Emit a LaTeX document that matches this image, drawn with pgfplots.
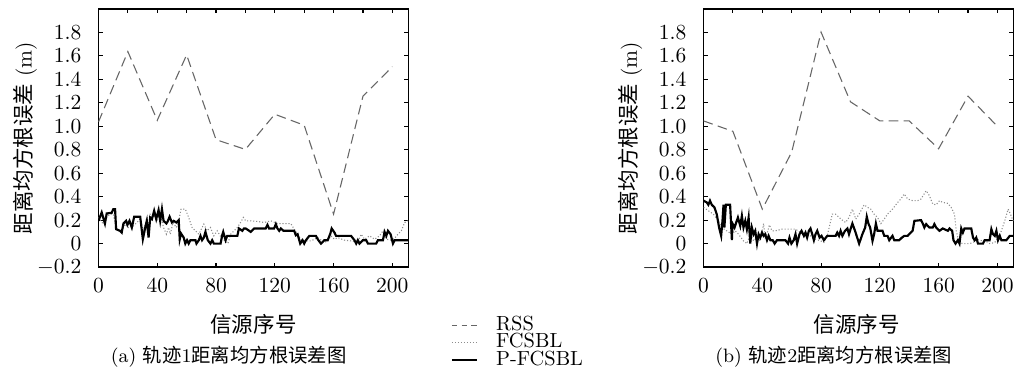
\documentclass[border=0pt]{standalone}
\usepackage{fontspec}
\usepackage{pgfplots}
\pgfplotsset{compat=1.18}
\newfontfamily\cjk{Noto Sans CJK SC}
\pgfplotsset{
  every axis title shift=0pt,
  myax/.style={
    scale only axis, width=144.2pt, height=120pt,
    xmin=0, xmax=211, ymin=-0.2, ymax=2.0,
    xtick={0,40,80,120,160,200},
    extra x ticks={20,60,100,140,180},
    extra x tick labels={},
    extra x tick style={xtick pos=right},
    ytick={-0.2,0,0.2,0.4,0.6,0.8,1.0,1.2,1.4,1.6,1.8},
    yticklabels={$-0.2$,$0$,$0.2$,$0.4$,$0.6$,$0.8$,$1.0$,$1.2$,$1.4$,$1.6$,$1.8$},
    tick align=inside, major tick length=1.9pt,
    tick style={black, line width=0.5pt},
    axis line style={line width=0.6pt},
    yticklabel style={xshift=-4.4pt},
    xticklabel style={yshift=-1.8pt},
    ylabel={\cjk 距离均方根误差\rmfamily\ (m)},
    xlabel={\cjk 信源序号},
    ylabel style={at={(axis description cs:-0.236,0.5)}, anchor=center},
    title style={anchor=center, yshift=0pt, font=\fontsize{9}{10}\selectfont},
    clip=true,
  },
  rss/.style={color=black!60, line width=0.5pt, dash pattern=on 4.5pt off 2.5pt},
  fcs/.style={color=black!45, line width=0.5pt, dash pattern=on 0.5pt off 0.9pt},
  pfcs/.style={color=black, line width=1pt},
}
\begin{document}
\begin{tikzpicture}[x=1pt,y=1pt]
\useasboundingbox (0,0) rectangle (471.6,174.9);
\begin{axis}[myax, at={(45.8pt,50.7pt)}, anchor=south west,
  xlabel style={at={(axis description cs:0.5,-0.221)}, anchor=center},
  title={(a) {\cjk 轨迹}1{\cjk 距离均方根误差图}},
  title style={at={(axis description cs:0.42,-0.346)}},
  legend style={at={(axis description cs:1.135,-0.19)}, anchor=north west,
    draw=none, fill=none, inner sep=0pt, row sep=0pt, column sep=8.5pt,
    font=\fontsize{9.5}{10}\selectfont,
    nodes={inner sep=0pt, text height=6.4pt, text depth=1.7pt}},
  legend cell align=left,
  legend image code/.code={\draw[#1] (0pt,0pt) -- (11.6pt,0pt);},
]
\addlegendimage{color=black!60, line width=0.5pt, dash pattern=on 2.6pt off 1.9pt}
\addlegendentry{RSS}
\addlegendimage{fcs}
\addlegendentry{FCSBL}
\addlegendimage{pfcs}
\addlegendentry{P-FCSBL}
\addplot[rss, forget plot] coordinates {(0,1.037)(20,1.637)(40,1.051)(60,1.609)(80,0.886)(100,0.803)(120,1.103)(140,1.009)(160,0.251)(180,1.257)(200,1.509)};
\addplot[fcs, forget plot] coordinates {(0,0.223)(3.3,0.166)(5.6,0.223)(7.9,0.251)(10.1,0.251)(12.4,0.109)(15.8,0.109)(18.1,0.166)(20.4,0.137)(22.7,0.137)(25.0,0.166)(28.4,0.209)(30.7,0.109)(32.9,0.223)(34.1,0.08)(35.2,0.251)(37.5,0.251)(39.8,0.194)(42.0,0.251)(44.3,0.137)(46.2,0.08)(47.7,0.137)(48.9,0.08)(50.7,0.18)(53.0,0.137)(54.6,0.194)(56.2,0.294)(59.1,0.294)(61.4,0.223)(63.7,0.137)(66.0,0.109)(68.3,0.08)(69.4,0.109)(71.7,0.166)(73.9,0.109)(76.2,0.137)(78.5,0.066)(80.8,0.109)(84.2,0.037)(86.5,0.023)(88.1,0.0)(89.9,0.08)(92.2,0.109)(94.5,0.137)(96.7,0.18)(98.6,0.223)(100.2,0.194)(103.6,0.194)(108.1,0.189)(112.7,0.18)(117.3,0.194)(121.8,0.171)(126.4,0.171)(130.9,0.171)(133.2,0.123)(135.5,0.08)(137.8,0.037)(140.0,0.023)(144.6,0.023)(149.2,0.051)(153.7,0.009)(156.0,0.023)(158.3,0.066)(160.6,0.037)(162.8,0.051)(167.4,0.029)(171.9,0.023)(176.5,0.009)(178.8,0.08)(181.1,0.037)(184.5,0.066)(187.9,0.037)(191.3,0.066)(193.6,0.109)(195.9,0.037)(199.3,0.029)(201.6,0.046)(203.8,0.08)(206.1,0.109)(208.4,0.18)(210.7,0.194)};
\addplot[pfcs, forget plot] coordinates {(0,0.194)(2.2,0.266)(4.4,0.171)(5.6,0.257)(9.0,0.263)(10.1,0.294)(11.3,0.294)(12.0,0.123)(14.7,0.109)(15.8,0.094)(17.0,0.171)(18.8,0.194)(19.7,0.16)(21.1,0.194)(22.7,0.137)(24.3,0.229)(28.4,0.229)(30.2,0.037)(31.8,0.137)(32.9,0.194)(34.1,0.051)(35.2,0.223)(36.4,0.209)(37.9,0.28)(39.3,0.209)(40.9,0.286)(42.0,0.194)(43.2,0.294)(44.3,0.194)(46.2,0.171)(47.1,0.189)(48.4,0.229)(50.0,0.18)(51.2,0.194)(53.0,0.18)(54.6,0.2)(55.3,0.037)(56.2,0.086)(58.0,0.051)(59.1,0)(60.3,0.029)(61.4,0)(62.6,0.029)(66.0,0.029)(66.7,0)(68.3,0.029)(69.4,0.066)(70.5,0.029)(71.7,0.051)(72.8,0.1)(74.4,0.029)(76.2,0)(77.4,0.029)(78.5,0)(83.1,0)(84.2,0.071)(84.9,0.1)(86.5,0.029)(87.6,0.066)(94.5,0.066)(95.6,0.129)(97.9,0.109)(99.0,0.129)(100.2,0.129)(103.6,0.1)(105.9,0.129)(113.8,0.129)(115.0,0.16)(116.1,0.129)(119.5,0.129)(120.7,0.166)(121.8,0.129)(123.0,0.109)(124.1,0.129)(125.9,0.109)(133.2,0.109)(134.3,0.071)(135.5,0.08)(137.3,0)(138.9,0.029)(140.0,0)(141.2,0.029)(143.5,0.066)(148.0,0.066)(149.2,0.037)(151.4,0)(153.7,0.029)(156.0,0.029)(157.8,0.086)(158.7,0.129)(160.6,0.094)(161.7,0.066)(171.9,0.066)(174.2,0.029)(175.4,0)(176.5,0.029)(177.6,0)(179.9,0.029)(182.2,0.029)(183.4,0)(189.0,0)(190.2,0.029)(193.6,0.029)(194.7,0.1)(195.9,0.066)(197.0,0.109)(198.8,0.08)(200.4,0)(201.6,0.029)(210.7,0.029)};
\end{axis}
\begin{axis}[myax, at={(327.2pt,50.7pt)}, anchor=south west,
  xlabel style={at={(axis description cs:0.494,-0.221)}, anchor=center},
  title={(b) {\cjk 轨迹}2{\cjk 距离均方根误差图}},
  title style={at={(axis description cs:0.42,-0.346)}},
]
\addplot[rss] coordinates {(0,1.046)(20,0.957)(40,0.294)(60,0.78)(80,1.803)(100,1.209)(120,1.046)(140,1.046)(160,0.809)(180,1.257)(200,1.0)};
\addplot[fcs] coordinates {(0,0.309)(3.3,0.28)(6.7,0.251)(10.1,0.194)(12.4,0.137)(15.8,0.109)(19.3,0.08)(21.5,0.109)(23.8,0.08)(27.2,0.023)(29.5,0)(31.8,0.08)(34.1,0.023)(36.4,0.051)(38.6,0.023)(40.9,0.171)(42.0,0.051)(43.2,0.08)(44.8,0.16)(46.6,0.109)(48.9,0.109)(53.4,0.123)(58.0,0.123)(62.6,0.123)(66.0,0.094)(69.4,0.08)(72.8,0.066)(76.2,0.037)(79.7,0.023)(81.9,0.009)(84.2,0.066)(87.6,0.251)(89.9,0.251)(92.2,0.223)(94.5,0.2)(96.7,0.18)(99.0,0.223)(101.3,0.294)(103.6,0.209)(105.9,0.251)(109.3,0.331)(111.6,0.309)(113.8,0.294)(116.1,0.251)(118.4,0.223)(120.7,0.171)(123.0,0.209)(125.2,0.251)(128.6,0.294)(132.1,0.351)(134.3,0.38)(136.6,0.423)(138.9,0.38)(142.3,0.366)(145.7,0.366)(148.0,0.38)(151.5,0.451)(153.7,0.409)(156.0,0.337)(158.3,0.331)(160.6,0.366)(162.8,0.351)(166.3,0.343)(168.5,0.309)(170.8,0.251)(172.0,0.109)(173.8,0.009)(176.5,0)(181.1,0)(183.4,0.009)(185.6,0.037)(187.9,0.029)(190.2,0.023)(192.5,0.017)(194.7,0)(198.2,0.009)(200.4,0.051)(202.7,0.109)(205.0,0.194)(207.3,0.294)(208.9,0.251)(210.7,0.194)};
\addplot[pfcs] coordinates {(0,0.366)(2.2,0.351)(3.3,0.331)(4.4,0.366)(5.6,0.331)(7.4,0.309)(9.0,0.251)(10.6,0.137)(12.0,0.066)(12.9,0.194)(13.6,0.331)(14.2,0.137)(15.2,0.331)(18.1,0.331)(19.3,0.029)(19.7,0.171)(21.1,0.137)(22.0,0.171)(23.4,0.223)(25.0,0.151)(26.1,0.237)(27.2,0.137)(28.4,0.194)(29.5,0.123)(30.7,0.223)(31.8,0)(32.9,0.137)(34.1,0.08)(35.2,0.109)(36.4,0)(37.5,0.08)(38.6,0.051)(39.8,0.094)(40.9,0.066)(42.0,0.08)(43.2,0.029)(44.3,0.066)(45.5,0.029)(47.1,0.029)(48.4,0)(50.0,0.029)(55.7,0.029)(57.5,0)(58.5,0.051)(59.8,0)(61.4,0.029)(62.6,0.08)(63.7,0)(65.3,0.08)(66.7,0.109)(68.3,0.066)(69.4,0.094)(70.5,0.051)(71.7,0.109)(72.8,0.129)(74.0,0.08)(75.1,0.029)(76.2,0.08)(77.4,0.109)(79.0,0.051)(80.3,0.066)(81.9,0.029)(84.2,0.066)(89.9,0.066)(91.0,0.094)(92.2,0.066)(93.3,0.109)(94.5,0.066)(96.3,0.109)(97.9,0.129)(99.0,0.08)(100.2,0.129)(101.3,0.171)(103.1,0.109)(105.9,0)(108.1,0.08)(110.0,0.137)(111.1,0.229)(112.2,0.171)(113.4,0.137)(115.0,0.023)(116.1,0.08)(117.3,0.171)(118.4,0.109)(121.8,0.109)(123.0,0.066)(125.2,0.066)(126.4,0.029)(128.6,0.066)(129.8,0.029)(133.2,0.029)(135.0,0.051)(136.6,0.066)(138.9,0.066)(140.0,0.08)(142.3,0.109)(143.5,0.194)(148.0,0.2)(149.2,0.171)(150.3,0.137)(151.5,0.166)(153.7,0.137)(156.0,0.137)(157.1,0.166)(158.3,0.137)(160.6,0.109)(162.8,0.129)(166.3,0.109)(167.4,0.129)(169.2,0.109)(170.1,0.029)(171.5,0)(173.1,0.029)(174.2,0)(175.4,0.129)(176.5,0.094)(177.6,0.129)(182.2,0.129)(183.4,0.051)(184.5,0.029)(185.6,0.051)(186.8,0)(190.2,0)(191.3,0.029)(194.7,0.029)(195.9,0.123)(197.0,0.08)(198.2,0.066)(199.3,0.109)(200.4,0.029)(201.6,0.066)(202.7,0.029)(206.1,0.029)(208.4,0.066)(210.7,0.066)};
\end{axis}
\end{tikzpicture}
\end{document}
